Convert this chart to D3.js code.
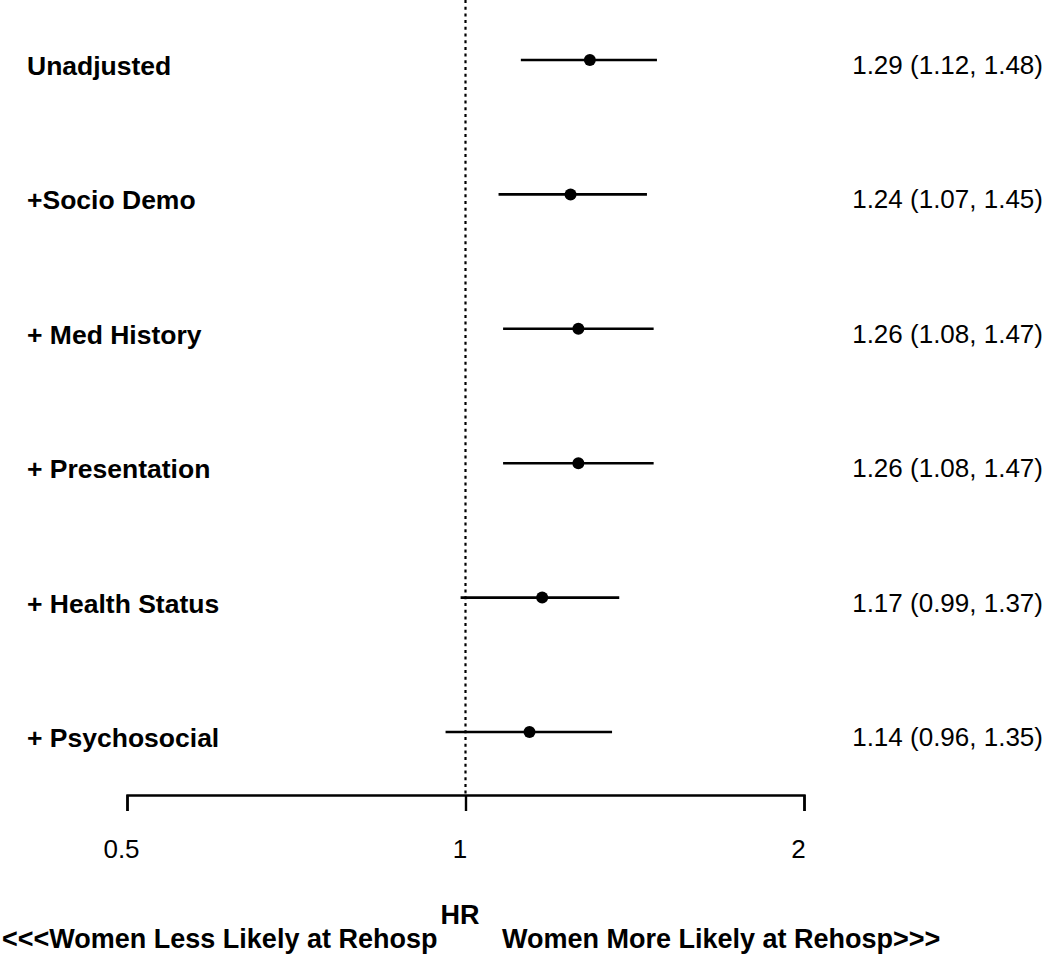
<!DOCTYPE html>
<html>
<head>
<meta charset="utf-8">
<script src="https://cdn.jsdelivr.net/npm/d3@7"></script>
<style>
  body { margin: 0; background: #fff; }
  svg { display: block; font-family: "Liberation Sans", Arial, Helvetica, sans-serif; }
</style>
</head>
<body>
<div id="chart"></div>
<script>
// models, top to bottom
const models = ["Unadjusted", "+Socio Demo", "+ Med History", "+ Presentation", "+ Health Status", "+ Psychosocial"];
const hr = [1.29, 1.24, 1.26, 1.26, 1.17, 1.14];
const lower = [1.12, 1.07, 1.08, 1.08, 0.99, 0.96];
const upper = [1.48, 1.45, 1.47, 1.47, 1.37, 1.35];
const tickValues = [0.5, 1, 2];

const width = 1050;
const height = 961;

const svg = d3.select("#chart")
  .append("svg")
  .attr("width", width)
  .attr("height", height);

const x = d3.scaleLog()
  .base(2)
  .domain([0.5, 2])
  .range([127, 804]);

const y = d3.scalePoint()
  .domain(models)
  .range([60, 732]);

const axisY = 795;

// reference line at HR = 1
svg.append("line")
  .attr("x1", x(1))
  .attr("x2", x(1))
  .attr("y1", 0)
  .attr("y2", axisY)
  .attr("stroke", "#000")
  .attr("stroke-width", 2.2)
  .attr("stroke-dasharray", "3,3.7");

const rows = models.map((m, i) => ({ model: m, hr: hr[i], lo: lower[i], hi: upper[i] }));

const row = svg.selectAll("g.row")
  .data(rows)
  .enter()
  .append("g")
  .attr("class", "row");

row.append("line")
  .attr("x1", d => x(d.lo))
  .attr("x2", d => x(d.hi))
  .attr("y1", d => y(d.model))
  .attr("y2", d => y(d.model))
  .attr("stroke", "#000")
  .attr("stroke-width", 2.6);

row.append("circle")
  .attr("cx", d => x(d.hr))
  .attr("cy", d => y(d.model))
  .attr("r", 6)
  .attr("fill", "#000");

row.append("text")
  .attr("x", 27)
  .attr("y", d => y(d.model) + 15)
  .attr("font-size", "26.5px")
  .attr("font-weight", "bold")
  .text(d => d.model);

row.append("text")
  .attr("x", 1043)
  .attr("y", d => y(d.model) + 14)
  .attr("text-anchor", "end")
  .attr("font-size", "26px")
  .text(d => `${d.hr.toFixed(2)} (${d.lo.toFixed(2)}, ${d.hi.toFixed(2)})`);

// x axis
const axis = d3.axisBottom(x)
  .tickValues(tickValues)
  .tickFormat(d => String(d))
  .tickSizeOuter(0)
  .tickSize(16);

const gAxis = svg.append("g")
  .attr("transform", `translate(0, ${axisY})`)
  .call(axis);

gAxis.select(".domain").attr("stroke-width", 2.4);
gAxis.selectAll(".tick line").attr("stroke-width", 2.4);
gAxis.selectAll(".tick text")
  .attr("y", 63)
  .attr("dy", 0)
  .attr("dx", -6)
  .attr("fill", "#000")
  .attr("font-size", "26px")
  .attr("font-family", "Liberation Sans, Arial, Helvetica, sans-serif");

// axis title and direction labels
svg.append("text")
  .attr("x", 460)
  .attr("y", 924)
  .attr("text-anchor", "middle")
  .attr("font-size", "27px")
  .attr("font-weight", "bold")
  .text("HR");

svg.append("text")
  .attr("x", 2)
  .attr("y", 948)
  .attr("font-size", "27px")
  .attr("font-weight", "bold")
  .text("<<<Women Less Likely at Rehosp");

svg.append("text")
  .attr("x", 502)
  .attr("y", 948)
  .attr("font-size", "27px")
  .attr("font-weight", "bold")
  .text("Women More Likely at Rehosp>>>");
</script>
</body>
</html>
